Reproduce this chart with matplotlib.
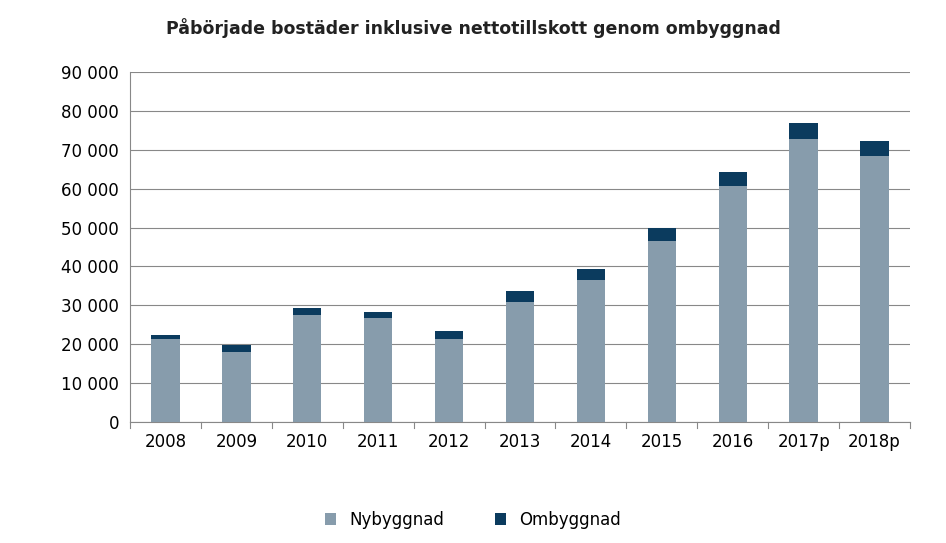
import matplotlib.pyplot as plt
import numpy as np

years = ["2008", "2009", "2010", "2011", "2012", "2013", "2014", "2015", "2016", "2017p", "2018p"]
nybyggnad = [21300, 18000, 27500, 26700, 21300, 30900, 36500, 46500, 60700, 72800, 68400]
ombyggnad = [1100, 1800, 1800, 1600, 2100, 2800, 2800, 3400, 3600, 4100, 3900]

fig = plt.figure(figsize=(9.46, 5.43), dpi=100)
ax = fig.add_axes([130 / 946, 1 - 422 / 543, 780 / 946, 350 / 543])

x = np.arange(len(years))
ax.bar(x, nybyggnad, width=0.4, color="#879cac", label="Nybyggnad", zorder=3)
ax.bar(x, ombyggnad, width=0.4, bottom=nybyggnad, color="#0b3b5e", label="Ombyggnad", zorder=3)

ax.set_xlim(-0.5, len(years) - 0.5)
ax.set_ylim(0, 90000)
ax.set_yticks(np.arange(0, 90001, 10000))
ax.set_yticklabels([f"{v:,}".replace(",", " ") for v in range(0, 90001, 10000)])
ax.set_xticks(x)
ax.set_xticklabels(years)
ax.tick_params(axis="both", labelsize=12, length=0, pad=8)
ax.grid(axis="y", color="#888888", linewidth=0.8, zorder=0)
for s in ["top", "right"]:
    ax.spines[s].set_visible(False)
ax.spines["left"].set_color("#888888")
ax.spines["bottom"].set_color("#888888")
# small tick marks between categories on the x axis
for b in np.arange(-0.5, len(years)):
    ax.plot([b, b], [0, -1500], color="#888888", linewidth=0.8, clip_on=False)

fig.text(0.5, 1 - 28 / 543, "Påbörjade bostäder inklusive nettotillskott genom ombyggnad",
         ha="center", va="center", fontsize=12.5, fontweight="bold", color="#222222")
fig.legend(loc="center", bbox_to_anchor=(0.5, 1 - 520 / 543), ncol=2, frameon=False,
           fontsize=12, handlelength=0.7, handleheight=0.7, columnspacing=3)

fig.savefig("out.png", dpi=100)
